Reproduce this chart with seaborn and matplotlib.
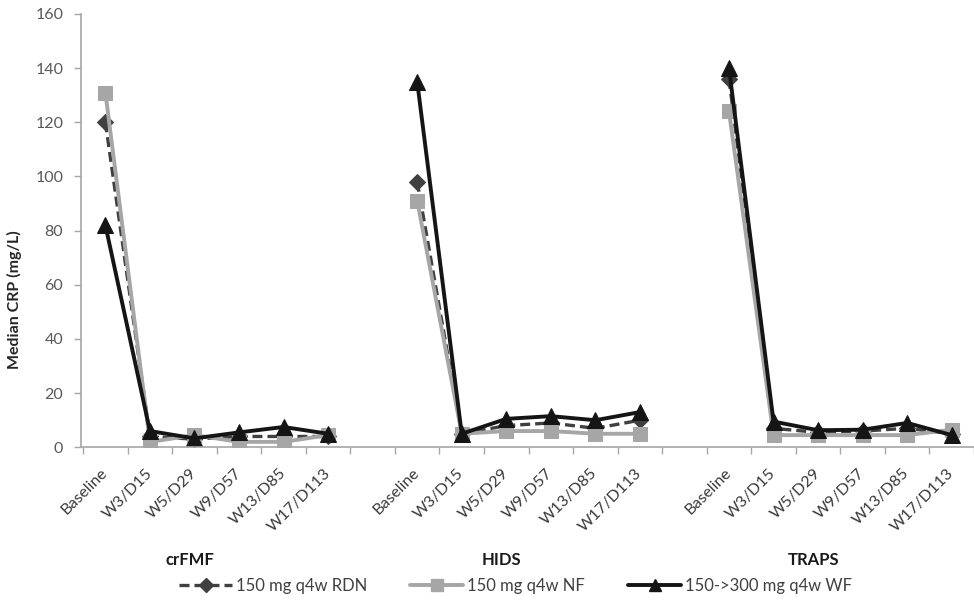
import numpy as np
import pandas as pd
import matplotlib
matplotlib.use("Agg")
import matplotlib.pyplot as plt
import seaborn as sns
from matplotlib.lines import Line2D

# ---- data ----
timepoints = ["Baseline", "W3/D15", "W5/D29", "W9/D57", "W13/D85", "W17/D113"]
groups = ["crFMF", "HIDS", "TRAPS"]
series = ["150 mg q4w RDN", "150 mg q4w NF", "150->300 mg q4w WF"]

rdn_crfmf = [120, 4, 3, 4, 4, 4]
rdn_hids = [98, 5, 8, 9, 7, 10]
rdn_traps = [136, 7, 5.5, 6, 7, 5]

nf_crfmf = [131, 2, 4.5, 2, 2, 4.5]
nf_hids = [91, 5, 6, 6, 5, 5]
nf_traps = [124, 4.5, 4.5, 4.5, 4.5, 6.5]

wf_crfmf = [82, 6, 3.3, 5.5, 7.5, 5]
wf_hids = [135, 5, 10.5, 11.5, 10, 13]
wf_traps = [140, 9.5, 6.3, 6.5, 9, 4.5]

values = {
    series[0]: [rdn_crfmf, rdn_hids, rdn_traps],
    series[1]: [nf_crfmf, nf_hids, nf_traps],
    series[2]: [wf_crfmf, wf_hids, wf_traps],
}

rows = []
for s in series:
    for gi, g in enumerate(groups):
        for ti, t in enumerate(timepoints):
            rows.append(dict(series=s, group=g, timepoint=t,
                             pos=gi * (len(timepoints) + 1) + ti,
                             crp=values[s][gi][ti]))
df = pd.DataFrame(rows)

# ---- style ----
sns.set_theme(style="white")
plt.rcParams["font.family"] = ["Lato", "DejaVu Sans"]

styles = {
    series[0]: dict(color="#404040", marker="D", ls=(0, (3, 1.5)), ms=8, lw=2.4),
    series[1]: dict(color="#a6a6a6", marker="s", ls="-", ms=10.5, lw=2.8),
    series[2]: dict(color="#151515", marker="^", ls="-", ms=11, lw=2.8),
}

fig = plt.figure(figsize=(9.74, 6.0), dpi=100)
ax = fig.add_axes([0.0835, 0.2545, 0.9165, 0.7222])

for s in series:
    st = styles[s]
    for g in groups:
        sub = df[(df.series == s) & (df.group == g)]
        sns.lineplot(data=sub, x="pos", y="crp", ax=ax, color=st["color"],
                     marker=st["marker"], markersize=st["ms"],
                     markeredgecolor=st["color"], linewidth=st["lw"],
                     linestyle=st["ls"], estimator=None, legend=False)

ax.set_ylim(0, 160)
ax.set_yticks(np.arange(0, 161, 20))
ax.set_xlim(-0.54, 19.29)

first = df.drop_duplicates("pos")
ax.set_xticks(first["pos"].values)
ax.set_xticklabels(first["timepoint"].values, rotation=45, ha="right",
                   va="center", rotation_mode="anchor", fontsize=11.5,
                   color="#3a3a3a")
ax.set_xticks(np.arange(-0.5, 20, 1), minor=True)
ax.tick_params(axis="x", which="major", length=0, pad=17)
ax.tick_params(axis="x", which="minor", length=5, color="#a6a6a6", width=1,
               bottom=True)
ax.tick_params(axis="y", length=5, color="#a6a6a6", width=1, left=True,
               labelsize=11.5, labelcolor="#595959", pad=8)

ax.set_xlabel("")
ax.set_ylabel("Median CRP (mg/L)", fontsize=11.5, fontweight="bold",
              color="#262626")
ax.yaxis.set_label_coords(22 / 974, 0.5, transform=fig.transFigure)

for sp in ["top", "right"]:
    ax.spines[sp].set_visible(False)
for sp in ["left", "bottom"]:
    ax.spines[sp].set_color("#a6a6a6")
    ax.spines[sp].set_linewidth(1.2)

for gi, g in enumerate(groups):
    xc = gi * (len(timepoints) + 1) + (len(timepoints) - 1) / 2 - 0.6
    ax.annotate(g, xy=(xc, 40), xycoords=("data", "figure pixels"),
                ha="center", va="center", fontsize=12, fontweight="bold",
                color="#1a1a1a", annotation_clip=False)

handles = [Line2D([], [], color=styles[s]["color"], marker=styles[s]["marker"],
                  markersize=styles[s]["ms"] * 0.85, linestyle=styles[s]["ls"],
                  linewidth=styles[s]["lw"]) for s in series]
fig.legend(handles, series, loc="center", bbox_to_anchor=(0.529, 14 / 600),
           ncol=3, frameon=False, fontsize=12, handlelength=3.2,
           columnspacing=2.6, handletextpad=0.2, labelcolor="#404040",
           borderpad=0)

fig.savefig("out.png", dpi=100)
